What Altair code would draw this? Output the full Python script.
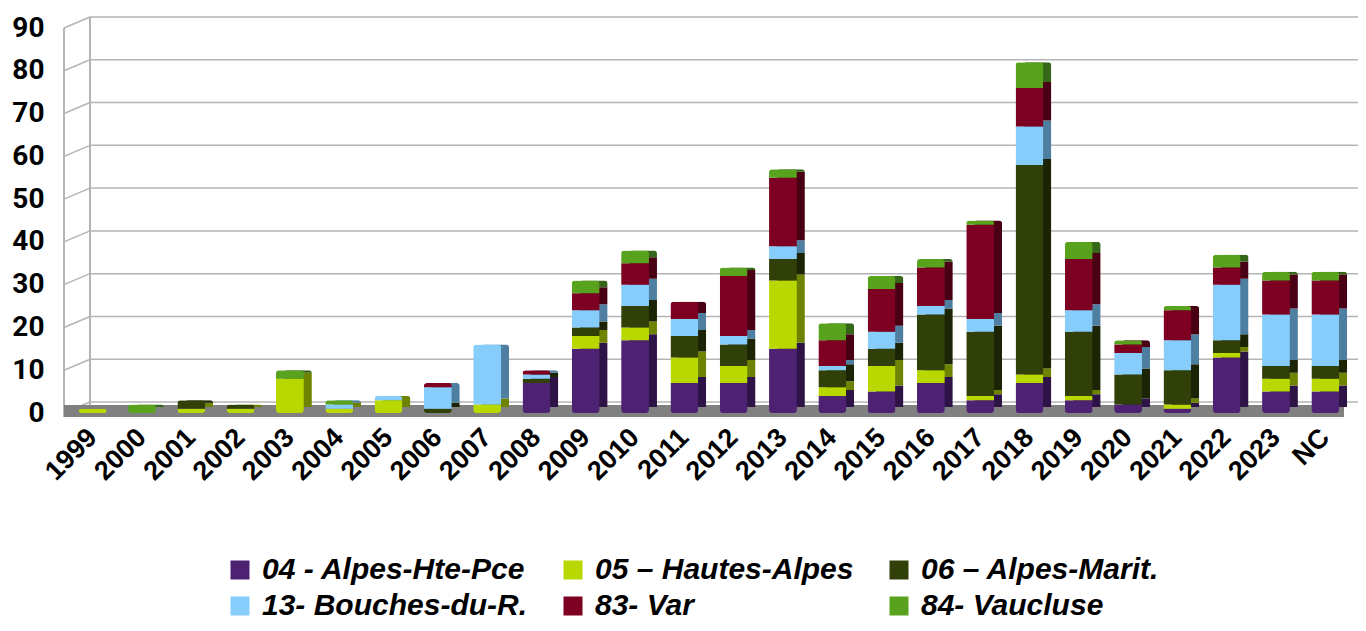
import altair as alt
import pandas as pd

years = ["1999", "2000", "2001", "2002", "2003", "2004", "2005", "2006", "2007",
         "2008", "2009", "2010", "2011", "2012", "2013", "2014", "2015", "2016",
         "2017", "2018", "2019", "2020", "2021", "2022", "2023", "NC"]

series = ["04 - Alpes-Hte-Pce", "05 – Hautes-Alpes", "06 – Alpes-Marit.",
          "13- Bouches-du-R.", "83- Var", "84- Vaucluse"]

v04 = [0, 0, 0, 0, 0, 0, 0, 0, 0, 7, 15, 17, 7, 7, 15, 4, 5, 7, 3, 7, 3, 2, 1, 13, 5, 5]
v05 = [1, 0, 1, 1, 8, 1, 3, 0, 2, 0, 3, 3, 6, 4, 16, 2, 6, 3, 1, 2, 1, 0, 1, 1, 3, 3]
v06 = [0, 0, 2, 1, 0, 0, 0, 1, 0, 1, 2, 5, 5, 5, 5, 4, 4, 13, 15, 49, 15, 7, 8, 3, 3, 3]
v13 = [0, 0, 0, 0, 0, 1, 1, 5, 14, 1, 4, 5, 4, 2, 3, 1, 4, 2, 3, 9, 5, 5, 7, 13, 12, 12]
v83 = [0, 0, 0, 0, 0, 0, 0, 1, 0, 1, 4, 5, 4, 14, 16, 6, 10, 9, 22, 9, 12, 2, 7, 4, 8, 8]
v84 = [0, 2, 0, 0, 2, 1, 0, 0, 0, 0, 3, 3, 0, 2, 2, 4, 3, 2, 1, 6, 4, 1, 1, 3, 2, 2]

y_ticks = [0, 10, 20, 30, 40, 50, 60, 70, 80, 90]

front_colors = ["#4e2273", "#b8d800", "#313f08", "#86cdfb", "#7d0023", "#58a21e"]
side_colors = ["#2e1346", "#6e8400", "#1b2404", "#4f7fa0", "#4a0014", "#35661a"]

rows = []
for si, (name, vals) in enumerate(zip(series, [v04, v05, v06, v13, v83, v84])):
    for y, v in zip(years, vals):
        if v > 0:
            rows.append({"year": y, "dept": name, "value": v, "idx": si,
                         "side": side_colors[si]})
df = pd.DataFrame(rows)
ticks_df = pd.DataFrame({"v": y_ticks})

# legend is filled column by column: order entries so rows read 04,05,06 / 13,83,84
legend_order = [0, 3, 1, 4, 2, 5]
legend_domain = [series[i] for i in legend_order]
legend_range = [front_colors[i] for i in legend_order]

W = 1290
H = 385
yscale = alt.Scale(domain=[0, 90], nice=False)
xscale = alt.Scale(domain=years, paddingInner=0.435, paddingOuter=0.3)
grid_color = "#b5b5b5"

y_axis = alt.Axis(values=y_ticks, labelFont="Roboto", labelFontWeight="bold",
                  labelFontSize=28, labelColor="#000000", labelPadding=20,
                  domain=False, ticks=False, grid=False, title=None)
x_axis = alt.Axis(labelAngle=315, labelAlign="right", labelBaseline="middle",
                  labelFont="Liberation Sans", labelFontWeight="bold",
                  labelFontSize=27, labelColor="#000000", labelPadding=20,
                  domain=False, ticks=False, labelOverlap=False, title=None)

# left wall diagonals
diag = alt.Chart(ticks_df).mark_rule(color=grid_color, strokeWidth=1.5, y2Offset=-11).encode(
    x=alt.value(0), x2=alt.value(26),
    y=alt.Y("v:Q", scale=yscale, axis=y_axis), y2=alt.Y2("v"))

# back wall horizontal lines
back = alt.Chart(ticks_df).mark_rule(color=grid_color, strokeWidth=1.5, yOffset=-11).encode(
    x=alt.value(26), x2=alt.value(W + 30),
    y=alt.Y("v:Q", scale=yscale, axis=y_axis))

front_edge = alt.Chart(ticks_df).mark_rule(color=grid_color, strokeWidth=1.5).encode(
    x=alt.value(0), y=alt.value(0), y2=alt.value(H + 4))
back_edge = alt.Chart(ticks_df).mark_rule(color=grid_color, strokeWidth=1.5).encode(
    x=alt.value(26), y=alt.value(-11), y2=alt.value(H - 8))

floor = alt.Chart(ticks_df).mark_rect(color="#808080").encode(
    x=alt.value(0), x2=alt.value(W - 10), y=alt.value(H - 8), y2=alt.value(H + 4))

side = alt.Chart(df).mark_bar(xOffset=8, yOffset=-6, cornerRadius=3).encode(
    x=alt.X("year:N", scale=xscale, axis=x_axis),
    y=alt.Y("value:Q", stack="zero", scale=yscale, axis=y_axis),
    color=alt.Color("side:N", scale=None),
    order=alt.Order("idx:Q", sort="ascending"))

front = alt.Chart(df).mark_bar(cornerRadius=3).encode(
    x=alt.X("year:N", scale=xscale, axis=x_axis),
    y=alt.Y("value:Q", stack="zero", scale=yscale, axis=y_axis),
    color=alt.Color("dept:N", scale=alt.Scale(domain=legend_domain, range=legend_range),
                    title=None,
                    legend=alt.Legend(orient="none", legendX=161, legendY=527,
                                      columns=3, columnPadding=30, rowPadding=6,
                                      symbolType="square", symbolSize=361,
                                      symbolStrokeWidth=0, symbolOpacity=1,
                                      labelFont="Liberation Sans", labelFontSize=30,
                                      labelFontStyle="italic", labelFontWeight="bold",
                                      labelColor="#000000", labelOffset=7,
                                      labelLimit=400, padding=0)),
    order=alt.Order("idx:Q", sort="ascending"))

chart = alt.layer(diag, back, front_edge, back_edge, floor, side, front).properties(
    width=W, height=H,
    autosize=alt.AutoSizeParams(type="none"),
    padding={"left": 56, "top": 20, "right": 4, "bottom": 210},
    background="white",
).configure_view(stroke=None).configure_axisX(labelAngle=315)

chart.save("out.html", embed_options={"renderer": "svg", "actions": False})
